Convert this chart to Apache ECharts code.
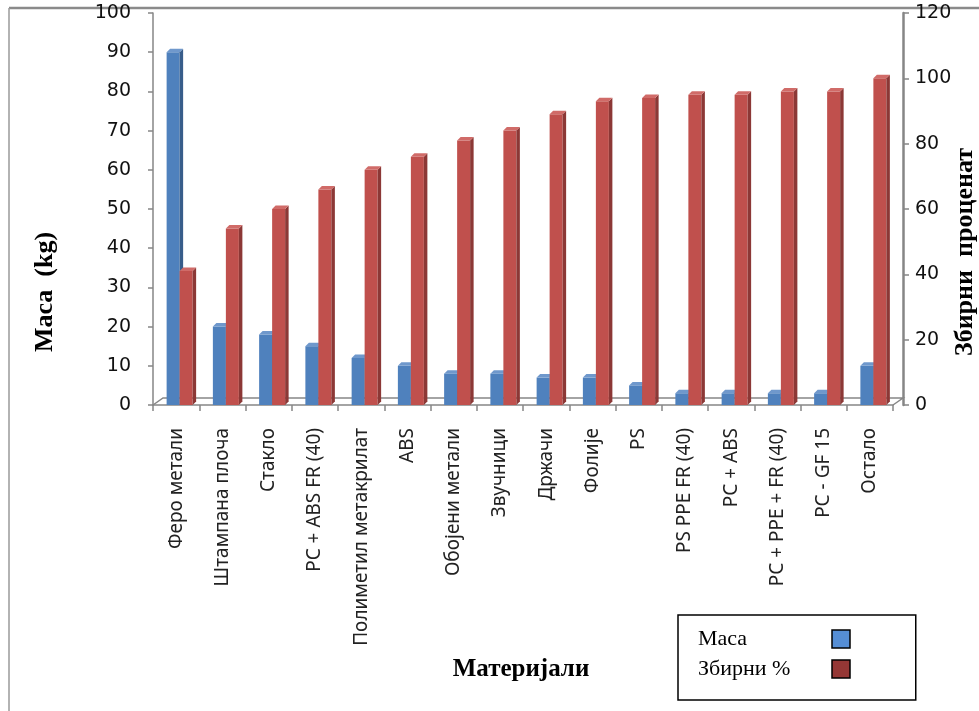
<!DOCTYPE html>
<html>
<head>
<meta charset="utf-8">
<script src="https://cdn.jsdelivr.net/npm/echarts@6/dist/echarts.min.js"></script>
<style>
  html, body { margin: 0; padding: 0; background: #ffffff; }
  #chart { width: 979px; height: 711px; }
</style>
</head>
<body>
<div id="chart"></div>
<script>
// Материјали и њихове масе (kg) са збирним процентом
const categories = [
  'Феро метали', 'Штампана плоча', 'Стакло', 'PC + ABS FR (40)',
  'Полиметил метакрилат', 'ABS', 'Обојени метали', 'Звучници',
  'Држачи', 'Фолије', 'PS', 'PS PPE FR (40)', 'PC + ABS',
  'PC + PPE + FR (40)', 'PC - GF 15', 'Остало'
];
const massKg = [90, 20, 18, 15, 12, 10, 8, 8, 7, 7, 5, 3, 3, 3, 3, 10];
const cumulativePct = [41, 54, 60, 66, 72, 76, 81, 84, 89, 93, 94, 95, 95, 96, 96, 100];
const massAxisTicks = [0, 10, 20, 30, 40, 50, 60, 70, 80, 90, 100];
const pctAxisTicks = [0, 20, 40, 60, 80, 100, 120];
const seriesNames = ['Маса', 'Збирни %'];

// plot frame (pixels)
const W = 979, H = 711;
const PLOT_LEFT = 153, PLOT_RIGHT = 893, PLOT_TOP = 13, PLOT_BOTTOM = 405;
const DEPTH_X = 10, DEPTH_Y = 7;
const AXIS_GRAY = '#868686';

// a column with a front face, a shaded side and a lit top
function column3d(colors, shift) {
  return function (params, api) {
    const i = api.value(0);
    const v = api.value(1);
    const base = api.coord([i, 0]);
    const top = api.coord([i, v]);
    const bw = 13, d = 3.5;
    const x = base[0] + shift;
    const y0 = base[1], y1 = top[1];
    return {
      type: 'group',
      children: [
        { type: 'rect', shape: { x: x, y: y1, width: bw, height: y0 - y1 },
          style: { fill: colors.front } },
        { type: 'polygon',
          shape: { points: [[x + bw, y1], [x + bw + d, y1 - d], [x + bw + d, y0 - d], [x + bw, y0]] },
          style: { fill: colors.side } },
        { type: 'polygon',
          shape: { points: [[x, y1], [x + d, y1 - d], [x + bw + d, y1 - d], [x + bw, y1]] },
          style: { fill: colors.top } }
      ]
    };
  };
}

const chart = echarts.init(document.getElementById('chart'), null, { renderer: 'canvas' });

const tickFont = { fontFamily: 'DejaVu Sans', fontSize: 19, color: '#111' };
const sideTitleFont = { fontFamily: 'Liberation Serif', fontWeight: 'bold', fontSize: 26, fill: '#000' };
const bottomTitleFont = { fontFamily: 'Liberation Serif', fontWeight: 'bold', fontSize: 25, fill: '#000' };

chart.setOption({
  backgroundColor: '#ffffff',
  animation: false,
  grid: {
    left: PLOT_LEFT, right: W - PLOT_RIGHT,
    top: PLOT_TOP, bottom: H - PLOT_BOTTOM,
    containLabel: false
  },
  legend: {
    orient: 'vertical',
    left: 678, top: 615,
    padding: [13, 65, 20, 20],
    borderColor: '#000', borderWidth: 1.5,
    itemWidth: 18, itemHeight: 18, itemGap: 8,
    align: 'right',
    selectedMode: false,
    formatter: '{t|{name}}',
    textStyle: {
      fontFamily: 'Liberation Serif', fontSize: 22, color: '#000',
      rich: { t: { width: 129, align: 'left', fontFamily: 'Liberation Serif', fontSize: 22, color: '#000' } }
    },
    data: [
      { name: seriesNames[0], icon: 'rect',
        itemStyle: { color: '#558ED5', borderColor: '#000', borderWidth: 1.5 } },
      { name: seriesNames[1], icon: 'rect',
        itemStyle: { color: '#953735', borderColor: '#000', borderWidth: 1.5 } }
    ]
  },
  xAxis: {
    type: 'category',
    data: categories,
    boundaryGap: true,
    axisLine: { lineStyle: { color: AXIS_GRAY, width: 1.5 } },
    axisTick: { show: true, length: 6, alignWithLabel: false, lineStyle: { color: AXIS_GRAY, width: 1.5 } },
    axisLabel: {
      rotate: 90, margin: 23, interval: 0,
      fontFamily: 'Noto Sans', fontSize: 19, color: '#222'
    },
    splitLine: { show: false }
  },
  yAxis: [
    {
      type: 'value',
      min: massAxisTicks[0], max: massAxisTicks[massAxisTicks.length - 1],
      interval: massAxisTicks[1] - massAxisTicks[0],
      position: 'left',
      axisLine: { show: true, lineStyle: { color: AXIS_GRAY, width: 1.5 } },
      axisTick: { show: true, length: 5, lineStyle: { color: AXIS_GRAY, width: 1.5 } },
      axisLabel: Object.assign({ margin: 22 }, tickFont),
      splitLine: { show: false }
    },
    {
      type: 'value',
      min: pctAxisTicks[0], max: pctAxisTicks[pctAxisTicks.length - 1],
      interval: pctAxisTicks[1] - pctAxisTicks[0],
      position: 'right',
      offset: DEPTH_X,
      axisLine: { show: true, lineStyle: { color: AXIS_GRAY, width: 2.5 } },
      axisTick: { show: true, length: 6, lineStyle: { color: AXIS_GRAY, width: 1.5 } },
      axisLabel: Object.assign({ margin: 12 }, tickFont),
      splitLine: { show: false }
    }
  ],
  series: [
    {
      name: seriesNames[0],
      type: 'custom',
      yAxisIndex: 0,
      z: 3,
      itemStyle: { color: '#4F81BD' },
      encode: { x: 0, y: 1 },
      renderItem: column3d({ front: '#4F81BD', side: '#385D8A', top: '#6F98CC' }, -9.5),
      data: massKg.map(function (v, i) { return [i, v]; })
    },
    {
      name: seriesNames[1],
      type: 'custom',
      yAxisIndex: 1,
      z: 4,
      itemStyle: { color: '#C0504D' },
      encode: { x: 0, y: 1 },
      renderItem: column3d({ front: '#C0504D', side: '#8C3836', top: '#D06B68' }, 3.5),
      data: cumulativePct.map(function (v, i) { return [i, v]; })
    }
  ],
  graphic: [
    // outer frame
    { type: 'line', z: 0, shape: { x1: 9, y1: 8, x2: W, y2: 8 },
      style: { stroke: '#8a8a8a', lineWidth: 2.5 } },
    { type: 'line', z: 0, shape: { x1: 9, y1: 8, x2: 9, y2: H },
      style: { stroke: '#9a9a9a', lineWidth: 1.5 } },
    // floor of the plot
    { type: 'polyline', z: 0,
      shape: { points: [
        [PLOT_LEFT, PLOT_BOTTOM],
        [PLOT_LEFT + DEPTH_X, PLOT_BOTTOM - DEPTH_Y],
        [PLOT_RIGHT + DEPTH_X, PLOT_BOTTOM - DEPTH_Y],
        [PLOT_RIGHT, PLOT_BOTTOM]
      ] },
      style: { stroke: AXIS_GRAY, lineWidth: 1.5, fill: null } },
    // axis titles
    { type: 'text', x: 45, y: 292, rotation: Math.PI / 2,
      style: Object.assign({ text: 'Маса  (kg)', align: 'center', verticalAlign: 'middle' }, sideTitleFont) },
    { type: 'text', x: 965, y: 252, rotation: Math.PI / 2,
      style: Object.assign({ text: 'Збирни  проценат', align: 'center', verticalAlign: 'middle' }, sideTitleFont) },
    { type: 'text', x: 521, y: 670,
      style: Object.assign({ text: 'Материјали', align: 'center', verticalAlign: 'middle' }, bottomTitleFont) }
  ]
});
</script>
</body>
</html>
